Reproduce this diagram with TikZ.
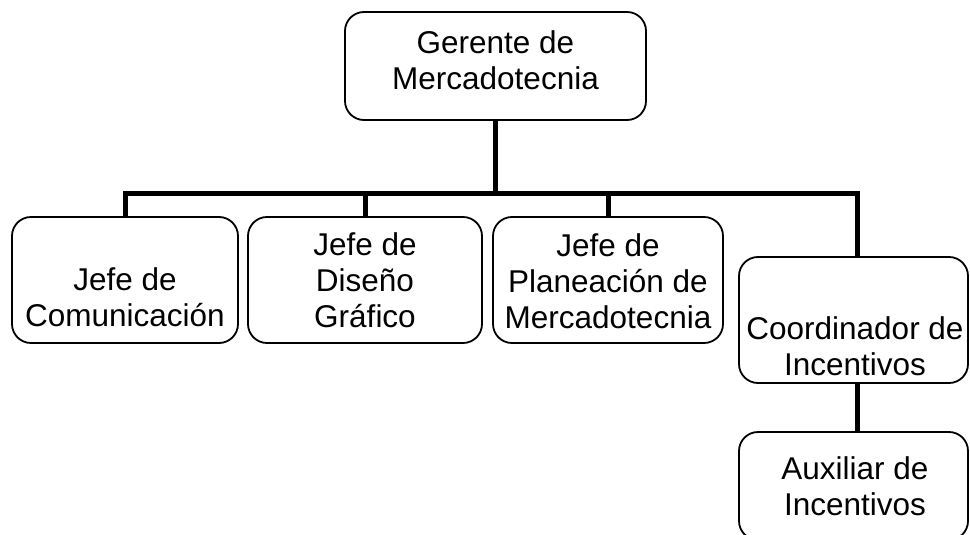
\documentclass[tikz,border=0pt]{standalone}
\usepackage{fontspec}
\setmainfont{Liberation Sans}
\begin{document}
\begin{tikzpicture}[x=1pt,y=-1pt,
  caja/.style={draw,line width=1.8pt,rounded corners=19pt,minimum height=126pt},
  rotulo/.style={align=center,inner sep=0pt,font=\fontsize{31.5}{36}\selectfont},
  enlace/.style={line width=5pt}]
\useasboundingbox (0,0) rectangle (970,535);
\clip (0,0) rectangle (970,535);
% cajas
\node[caja,minimum width=301pt,minimum height=108pt] (gm) at (495.5,66) {};
\node[caja,minimum width=226pt] (jc) at (125,280) {};
\node[caja,minimum width=234pt] (jd) at (365,280) {};
\node[caja,minimum width=230pt] (jp) at (608,280) {};
\node[caja,minimum width=229pt] (ci) at (853.5,320) {};
\node[caja,minimum width=229pt,minimum height=108pt] (ai) at (853.5,486) {};
% textos
\node[rotulo] (tgm) at (495.5,60) {Gerente de\\Mercadotecnia};
\node[rotulo] (tjc) at (125,297.5) {Jefe de\\Comunicación};
\node[rotulo] (tjd) at (365,280) {Jefe de\\Diseño\\Gráfico};
\node[rotulo] (tjp) at (608,281) {Jefe de\\Planeación de\\Mercadotecnia};
\node[rotulo] (tci) at (855,346) {Coordinador de\\Incentivos};
\node[rotulo] (tai) at (855,486) {Auxiliar de\\Incentivos};
% lineas
\coordinate (barra) at (0,193);
\draw[enlace] (gm.south) -- (gm.south |- barra);
\draw[enlace] (jc.north) -- (jc.north |- barra) -| ([xshift=4pt]ci.north);
\draw[enlace] (jd.north) -- (jd.north |- barra);
\draw[enlace] (jp.north) -- (jp.north |- barra);
\draw[enlace] ([xshift=4pt]ci.south) -- ([xshift=4pt]ai.north);
\end{tikzpicture}
\end{document}
